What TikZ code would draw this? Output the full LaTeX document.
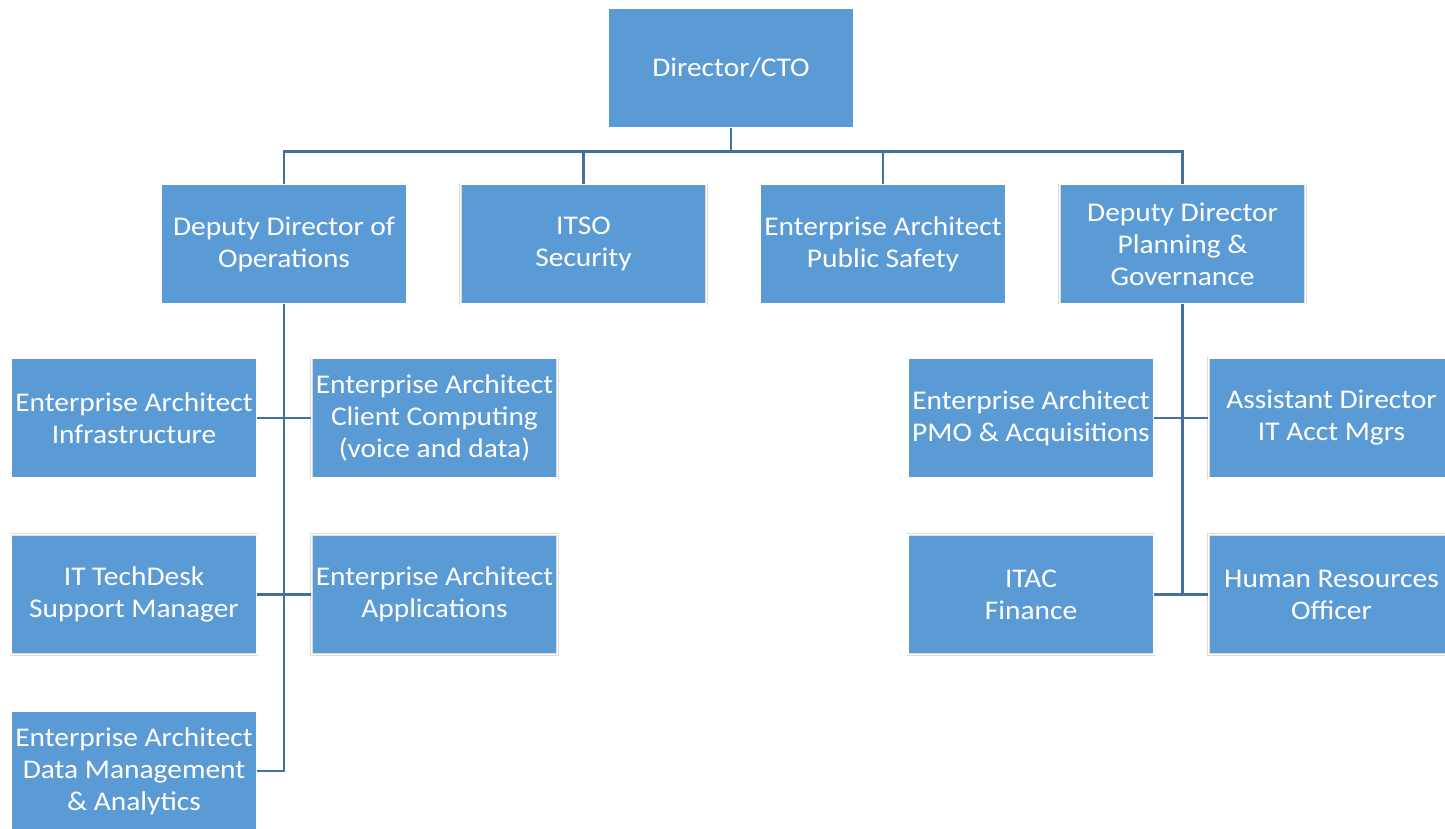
\documentclass[tikz,border=0pt]{standalone}
\usepackage{fontspec}
\setmainfont{Carlito}[FakeStretch=1.09]
\usetikzlibrary{positioning}

\begin{document}
\begin{tikzpicture}[x=1pt, y=-1pt,
    post/.style={rectangle, fill=postblue, draw=black!14, double=white, double distance=1.2pt, line width=0.5pt,
      minimum width=246pt, minimum height=120pt, inner sep=0pt, align=center, text=white,
      font=\fontsize{27}{32}\selectfont},
    link/.style={draw=linkblue, line width=2.6pt}]
    \definecolor{postblue}{HTML}{5B9BD5}
    \definecolor{linkblue}{HTML}{41719C}
    \useasboundingbox (0,0) rectangle (1445,829);

    \node[post] (cto) at (731,68) {Director/CTO};
    \coordinate[below=23pt of cto] (bus);

    \node[post] (ops) at (284,244) {Deputy Director of\\Operations};
    \node[post, right=53pt of ops] (itso) {ITSO\\Security};
    \node[post, right=53pt of itso] (eaps) {Enterprise Architect\\Public Safety};
    \node[post, right=53pt of eaps] (ddpg) {Deputy Director\\Planning \&\\Governance};

    \node[post] (infra) at (134,418) {Enterprise Architect\\Infrastructure};
    \node[post, right=54pt of infra] (client) {Enterprise Architect\\Client Computing\\(voice and data)};
    \node[post, below=56pt of infra] (desk) {IT TechDesk\\Support Manager};
    \node[post, right=54pt of desk] (apps) {Enterprise Architect\\Applications};
    \node[post, below=56pt of desk] (data) {Enterprise Architect\\Data Management\\\& Analytics};

    \node[post] (pmo) at (1031,418) {Enterprise Architect\\PMO \& Acquisitions};
    \node[post, right=54pt of pmo] (asst) {Assistant Director\\IT Acct Mgrs};
    \node[post, below=56pt of pmo] (itac) {ITAC\\Finance};
    \node[post, right=54pt of itac] (hr) {Human Resources\\Officer};

    \draw[link] (cto.south) -- (bus) -| (ops.north);
    \draw[link] (bus) -| (itso.north);
    \draw[link] (bus) -| (eaps.north);
    \draw[link] (bus) -| (ddpg.north);

    \draw[link] (ops.south) |- (data.east);
    \draw[link] (infra.east) -- (client.west);
    \draw[link] (desk.east) -- (apps.west);

    \draw[link] (ddpg.south) -- (ddpg.south |- itac.east);
    \draw[link] (pmo.east) -- (asst.west);
    \draw[link] (itac.east) -- (hr.west);
\end{tikzpicture}
\end{document}
